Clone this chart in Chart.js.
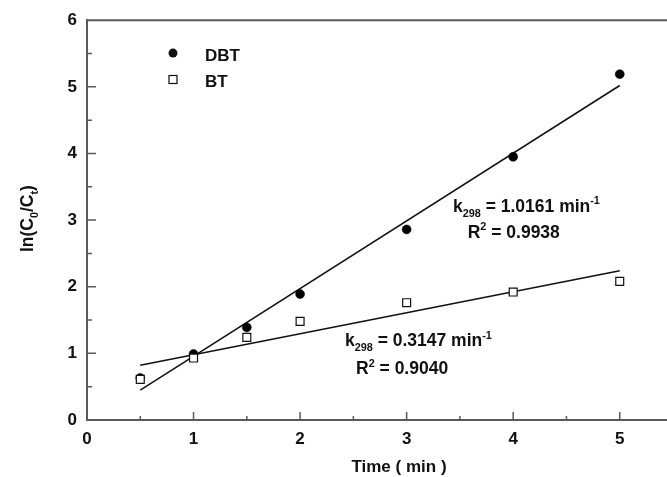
<!DOCTYPE html>
<html><head><meta charset="utf-8">
<script src="https://cdn.jsdelivr.net/npm/chart.js@4.4.0/dist/chart.umd.min.js"></script>
<style>html,body{margin:0;padding:0;overflow:hidden;background:#fff;width:667px;height:477px}</style>
</head><body>
<canvas id="c" width="680" height="477" style="display:block;width:680px;height:477px"></canvas>
<script>
const timeValues = [0.5, 1, 1.5, 2, 3, 4, 5];
const dbtValues = [0.63, 0.99, 1.39, 1.89, 2.86, 3.95, 5.19];
const btValues  = [0.61, 0.93, 1.24, 1.48, 1.76, 1.92, 2.08];
const fitTime = [0.5, 5];
const dbtFit = [0.45, 5.02];
const btFit = [0.82, 2.24];
const xTickValues = [0, 1, 2, 3, 4, 5];
const xMinorTicks = [0.5, 1.5, 2.5, 3.5, 4.5];
const yTickValues = [0, 1, 2, 3, 4, 5, 6];
const yMinorTicks = [0.5, 1.5, 2.5, 3.5, 4.5, 5.5];
const seriesLabels = ['DBT', 'BT'];
const xTitle = 'Time ( min )';
const yTitleParts = [['ln(C', ''], ['0', 'sub'], ['/C', ''], ['t', 'sub'], [')', '']];
const dbtNote = [['k', ''], ['298', 'sub'], [' = 1.0161 min', ''], ['-1', 'sup']];
const dbtR2 = [['R', ''], ['2', 'sup'], [' = 0.9938', '']];
const btNote = [['k', ''], ['298', 'sub'], [' = 0.3147 min', ''], ['-1', 'sup']];
const btR2 = [['R', ''], ['2', 'sup'], [' = 0.9040', '']];

const FONT = '"Liberation Sans", Arial, sans-serif';
const WEIGHT = 'bold ';
const AXIS = '#5a5a5a';
const INK = '#111';

function pts(xs, ys) { return xs.map((x, i) => ({x: x, y: ys[i]})); }

function drawRich(ctx, parts, x, y, size) {
  let cx = x;
  for (const [t, kind] of parts) {
    const s = kind ? size * 0.62 : size;
    ctx.font = WEIGHT + s + 'px ' + FONT;
    const dy = kind === 'sub' ? size * 0.3 : (kind === 'sup' ? -size * 0.42 : 0);
    ctx.fillText(t, cx, y + dy);
    cx += ctx.measureText(t).width;
  }
  return cx - x;
}
function richWidth(ctx, parts, size) {
  let w = 0;
  for (const [t, kind] of parts) {
    ctx.font = WEIGHT + (kind ? size * 0.62 : size) + 'px ' + FONT;
    w += ctx.measureText(t).width;
  }
  return w;
}

const decor = {
  id: 'decor',
  afterDraw(chart) {
    const ctx = chart.ctx, a = chart.chartArea;
    const xs = chart.scales.x, ys = chart.scales.y;
    ctx.save();
    // top frame
    ctx.strokeStyle = AXIS; ctx.lineWidth = 2;
    ctx.beginPath(); ctx.moveTo(a.left - 1, a.top); ctx.lineTo(a.right, a.top); ctx.stroke();
    // inward ticks
    ctx.lineWidth = 1.5;
    ctx.beginPath();
    xTickValues.forEach(v => { if (v === xs.min) return; const p = xs.getPixelForValue(v); ctx.moveTo(p, a.bottom); ctx.lineTo(p, a.bottom - 8); });
    xMinorTicks.forEach(v => { const p = xs.getPixelForValue(v); ctx.moveTo(p, a.bottom); ctx.lineTo(p, a.bottom - 4); });
    yTickValues.forEach(v => { if (v === ys.min || v === ys.max) return; const p = ys.getPixelForValue(v); ctx.moveTo(a.left, p); ctx.lineTo(a.left + 9, p); });
    yMinorTicks.forEach(v => { const p = ys.getPixelForValue(v); ctx.moveTo(a.left, p); ctx.lineTo(a.left + 5, p); });
    ctx.stroke();

    ctx.fillStyle = INK;
    ctx.textBaseline = 'alphabetic';
    ctx.textAlign = 'left';
    // legend
    const lx = xs.getPixelForValue(0.807);
    const tx = xs.getPixelForValue(1.107);
    ctx.beginPath(); ctx.arc(lx, ys.getPixelForValue(5.506), 4.5, 0, Math.PI * 2); ctx.fill();
    ctx.font = WEIGHT + '17px ' + FONT;
    ctx.fillText(seriesLabels[0], tx, ys.getPixelForValue(5.387));
    ctx.strokeStyle = INK; ctx.lineWidth = 1.2;
    const sy = ys.getPixelForValue(5.11);
    ctx.strokeRect(lx - 4, sy - 4, 8, 8);
    ctx.fillText(seriesLabels[1], tx, ys.getPixelForValue(4.998));

    // annotations
    drawRich(ctx, dbtNote, xs.getPixelForValue(3.435), ys.getPixelForValue(3.127), 17.5);
    drawRich(ctx, dbtR2, xs.getPixelForValue(3.573), ys.getPixelForValue(2.738), 17.5);
    drawRich(ctx, btNote, xs.getPixelForValue(2.421), ys.getPixelForValue(1.107), 17.5);
    drawRich(ctx, btR2, xs.getPixelForValue(2.525), ys.getPixelForValue(0.688), 17.5);

    // x title
    ctx.font = WEIGHT + '17px ' + FONT;
    ctx.textAlign = 'center'; ctx.textBaseline = 'middle';
    ctx.fillText(xTitle, 399, 467);

    // y title (rotated)
    ctx.textAlign = 'left'; ctx.textBaseline = 'alphabetic';
    const w = richWidth(ctx, yTitleParts, 17.5);
    ctx.translate(33, (a.top + a.bottom) / 2 - 1.5);
    ctx.rotate(-Math.PI / 2);
    drawRich(ctx, yTitleParts, -w / 2, 0, 17.5);
    ctx.restore();
  }
};

new Chart(document.getElementById('c'), {
  type: 'scatter',
  data: {
    datasets: [
      { label: seriesLabels[1], data: pts(timeValues, btValues), pointStyle: 'rect', pointRadius: 5.6,
        backgroundColor: '#fff', borderColor: INK, borderWidth: 1.2 },
      { label: seriesLabels[0], data: pts(timeValues, dbtValues), pointStyle: 'circle', pointRadius: 4.5,
        backgroundColor: '#000', borderColor: '#000', borderWidth: 0.5 },
      { label: 'DBT fit', data: pts(fitTime, dbtFit), showLine: true, pointRadius: 0,
        borderColor: INK, borderWidth: 1.5 },
      { label: 'BT fit', data: pts(fitTime, btFit), showLine: true, pointRadius: 0,
        borderColor: INK, borderWidth: 1.5 }
    ]
  },
  options: {
    responsive: false,
    animation: false,
    layout: { padding: { top: 19, right: 7, left: 0, bottom: 0 } },
    plugins: { legend: { display: false }, tooltip: { enabled: false } },
    scales: {
      x: {
        type: 'linear', min: 0, max: 5.5,
        afterBuildTicks: s => { s.ticks = xTickValues.map(v => ({value: v})); },
        afterFit: s => { s.height = 57; },
        grid: { display: false, drawTicks: false },
        border: { display: true, color: AXIS, width: 2 },
        ticks: { font: { family: FONT, size: 17, weight: 'bold' }, color: INK, padding: 9, maxRotation: 0 }
      },
      y: {
        type: 'linear', min: 0, max: 6,
        afterBuildTicks: s => { s.ticks = yTickValues.map(v => ({value: v})); },
        afterFit: s => { s.width = 87; },
        grid: { display: false, drawTicks: false },
        border: { display: true, color: AXIS, width: 2 },
        ticks: { font: { family: FONT, size: 17, weight: 'bold' }, color: INK, padding: 10 }
      }
    }
  },
  plugins: [decor]
});
</script>
</body></html>
